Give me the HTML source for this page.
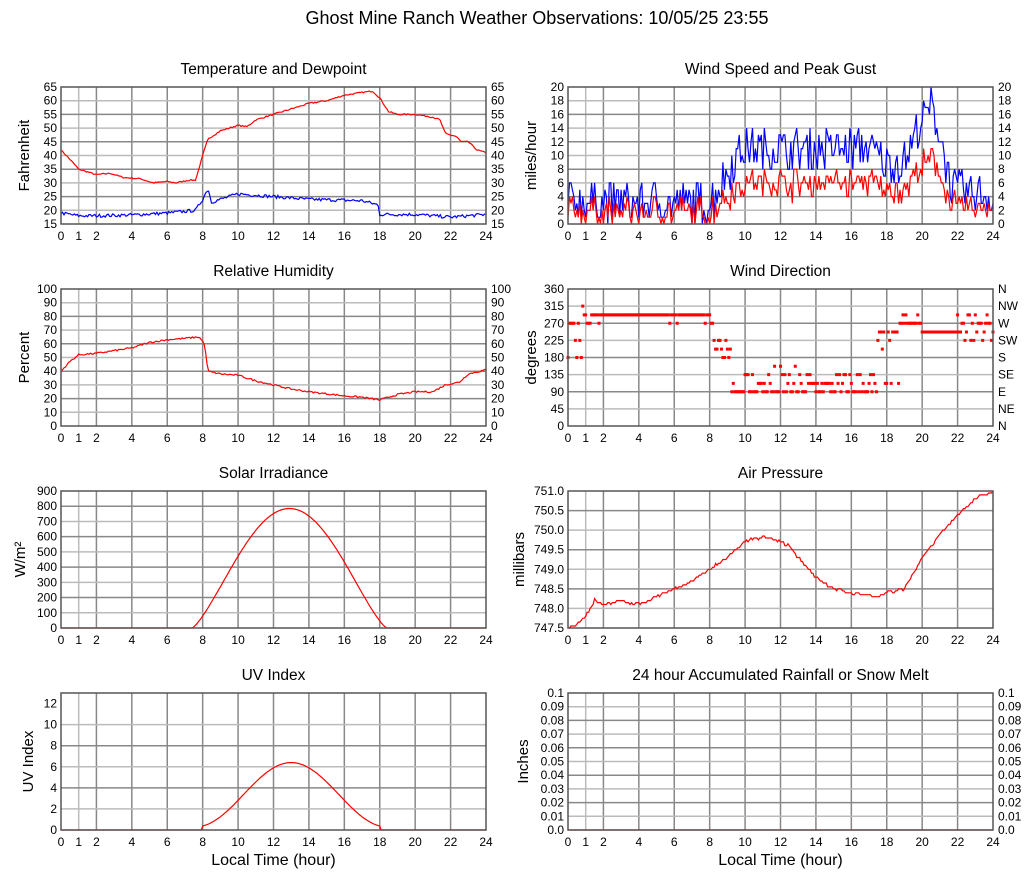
<!DOCTYPE html>
<html><head><meta charset="utf-8"><style>
body{margin:0;background:#fff;}
svg{display:block;font-family:"Liberation Sans",sans-serif;}
</style></head><body>
<svg id="s" width="1027" height="878" xmlns="http://www.w3.org/2000/svg">
<text x="537" y="24" font-size="18" text-anchor="middle">Ghost Mine Ranch Weather Observations: 10/05/25 23:55</text>
</svg>
<script>
var S=document.getElementById('s'),NS='http://www.w3.org/2000/svg';
var seed=7;function rnd(){seed=(seed*16807)%2147483647;return seed/2147483647;}
function el(t,a,txt){var e=document.createElementNS(NS,t);for(var k in a)e.setAttribute(k,a[k]);if(txt!==undefined)e.textContent=txt;S.appendChild(e);return e;}
function interp(pts,t){for(var i=0;i<pts.length-1;i++){if(t<=pts[i+1][0]){var a=pts[i],b=pts[i+1];return a[1]+(b[1]-a[1])*(t-a[0])/(b[0]-a[0]);}}return pts[pts.length-1][1];}
function chart(o){
 var L=o.x,T=o.y,W=425,H=137,R=L+W,B=T+H;
 el('text',{x:L+W/2,y:T-13,'font-size':15.5,'text-anchor':'middle'},o.title);
 var hrs=[1,2,4,6,8,10,12,14,16,18,20,22];
 hrs.forEach(function(h){var x=L+W*h/24;el('line',{x1:x,y1:T,x2:x,y2:B,stroke:h==1?'#bbb':'#888','stroke-width':1.5});});
 var n=o.ticks.length;
 for(var i=0;i<n;i++){var v=o.ticks[i];var y=B-(v-o.min)/(o.max-o.min)*H;
  if(i>0&&i<n-1)el('line',{x1:L,y1:y,x2:R,y2:y,stroke:i%2?'#bbb':'#888','stroke-width':1.5});
  var lab=o.fmt?o.fmt(v):String(v);
  el('text',{x:L-4,y:y+4,'font-size':12,'text-anchor':'end'},lab);
  if(o.right)el('text',{x:R+5,y:y+4,'font-size':12},o.rlab?o.rlab[i]:lab);}
 [0,1,2,4,6,8,10,12,14,16,18,20,22,24].forEach(function(h){el('text',{x:L+W*h/24,y:B+16,'font-size':12,'text-anchor':'middle'},h);});
 el('text',{transform:'translate('+(L-o.yo)+','+(T+H/2)+') rotate(-90)','font-size':15,'text-anchor':'middle'},o.ylab);
 if(o.xlab)el('text',{x:L+W/2,y:B+35,'font-size':16,'text-anchor':'middle'},'Local Time (hour)');
 function px(t){return L+W*t/24;}function py(v){v=Math.max(o.min,Math.min(o.max,v));return B-(v-o.min)/(o.max-o.min)*H;}
 (o.series||[]).forEach(function(s){var d='';for(var k=0;k<=288;k++){var t=k/12;var v=s.f(t);d+=(k?'L':'M')+px(t).toFixed(1)+' '+py(v).toFixed(1);}
  el('path',{d:d,fill:'none',stroke:s.c,'stroke-width':1.2});});
 if(o.dots){o.dots.forEach(function(p){el('rect',{x:px(p[0])-1.5,y:py(p[1])-1.5,width:3,height:3,fill:'red'});});}
 el('rect',{x:L,y:T,width:W,height:H,fill:'none',stroke:'#555','stroke-width':1.5});
}
function rng(a,b,s){var r=[];for(var v=a;v<=b+1e-9;v+=s)r.push(Math.round(v*100)/100);return r;}
var tP=[[0,42],[.3,40],[.8,36.5],[1,35],[2,33],[2.8,33.5],[3.5,32],[4.5,31.5],[5.2,30],[6,30.5],[6.5,30],[7.2,31],[7.6,31],[8,40],[8.3,46],[9,49],[10,51],[10.5,50.5],[11,53],[12,55],[13,57],[14,59],[15,60],[16,62],[17,63],[17.6,63.5],[18,61],[18.5,56],[19,55],[20,55],[21,54],[21.4,53],[21.7,48],[22.3,47],[22.6,45],[23,45],[23.5,42],[24,41]];
var dP=[[0,19],[1,18],[2,18],[4,18.3],[6,19],[7.6,20],[8,24],[8.3,28],[8.5,23],[9,24],[10,26],[12,25],[14,24],[17,23.5],[17.9,22],[18,18.5],[20,18.5],[22,17.5],[23,18],[24,18.5]];
chart({x:61,y:87,title:'Temperature and Dewpoint',min:15,max:65,ticks:rng(15,65,5),right:1,ylab:'Fahrenheit',yo:32,
 series:[{c:'red',f:function(t){return interp(tP,t)+(rnd()-.5)*.5;}},{c:'blue',f:function(t){return interp(dP,t)+(rnd()-.5)*1.2;}}]});
var gP=[[0,3.5],[8,3],[9.5,10],[10,11],[17,11],[18,9],[19,9],[19.7,14],[20.5,17],[21,13],[21.7,5],[24,4]];
var gust=[],spd=[];for(var k=0;k<=288;k++){var t=k/12,b=interp(gP,t);var g=Math.max(0,Math.round(b+(rnd()-.5)*6));gust.push(g);spd.push(Math.max(0,Math.round(g*.55+(rnd()-.5)*2)));}
chart({x:568,y:87,title:'Wind Speed and Peak Gust',min:0,max:20,ticks:rng(0,20,2),right:1,ylab:'miles/hour',yo:32,
 series:[{c:'blue',f:function(t){return gust[Math.round(t*12)];}},{c:'red',f:function(t){return spd[Math.round(t*12)];}}]});
var rP=[[0,40],[.5,47],[1,52],[2,53],[3,55],[4,57],[5,61],[6,63],[7,64],[7.8,65],[8.1,60],[8.3,40],[9,38],[10,37],[11,33],[12,30],[13,27],[14,25],[16,22],[17,21],[18,19],[19,23],[20,25],[21,25],[21.7,30],[22.5,32],[23,38],[24,41]];
chart({x:61,y:289,title:'Relative Humidity',min:0,max:100,ticks:rng(0,100,10),right:1,ylab:'Percent',yo:32,
 series:[{c:'red',f:function(t){return interp(rP,t)+(rnd()-.5)*1.2;}}]});
var dots=[];for(var k=0;k<=288;k++){var t=k/12,v;var r=rnd();
 if(t<1.3)v=[292,270,225,315,180,292][Math.floor(r*6)];else if(t<7.5)v=r<.05?270:292;else if(t<8.2)v=r<.5?270:292;else if(t<9.2)v=r<.3?180:(r<.7?202:225);
 else if(t<17.5)v=r<.55?90:(r<.8?112:(r<.95?135:(r<.98?157:68)));else if(t<18.7)v=r<.3?112:(r<.6?202:(r<.8?225:247));else if(t<20)v=r<.8?270:292;else if(t<22)v=247;else v=r<.3?225:(r<.6?292:(r<.8?247:270));dots.push([t,v]);}
chart({x:568,y:289,title:'Wind Direction',min:0,max:360,ticks:rng(0,360,45),right:1,rlab:['N','NE','E','SE','S','SW','W','NW','N'],ylab:'degrees',yo:32,dots:dots});
chart({x:61,y:491,title:'Solar Irradiance',min:0,max:900,ticks:rng(0,900,100),ylab:'W/m²',yo:36,
 series:[{c:'red',f:function(t){if(t<7.4||t>18.4)return 0;var s=Math.sin(Math.PI*(t-7.4)/11);return 785*Math.pow(Math.max(0,s),1.3);}}]});
var pP=[[0,747.5],[.5,747.6],[1,747.8],[1.5,748.2],[2,748.1],[3,748.2],[3.7,748.1],[4.5,748.2],[5,748.3],[6,748.5],[7,748.7],[8,749],[9,749.3],[10,749.7],[10.5,749.8],[11.3,749.8],[12,749.7],[12.5,749.6],[13,749.3],[14,748.8],[15,748.5],[16,748.4],[17.5,748.3],[18,748.4],[19,748.5],[20,749.3],[21,749.9],[22,750.4],[23,750.8],[24,751]];
chart({x:568,y:491,title:'Air Pressure',min:747.5,max:751,ticks:rng(747.5,751,.5),fmt:function(v){return v.toFixed(1);},ylab:'millibars',yo:44,
 series:[{c:'red',f:function(t){return Math.round((interp(pP,t)+(rnd()-.5)*.06)*20)/20;}}]});
chart({x:61,y:693,title:'UV Index',min:0,max:13,ticks:[0,2,4,6,8,10,12],ylab:'UV Index',yo:28,xlab:1,
 series:[{c:'red',f:function(t){if(t<8||t>18)return 0;return .3+6.1*Math.pow(Math.sin(Math.PI*(t-7.6)/10.8),2);}}]});
chart({x:568,y:693,title:'24 hour Accumulated Rainfall or Snow Melt',min:0,max:.1,ticks:rng(0,.1,.01),fmt:function(v){return v==0?'0.0':(v==.1?'0.1':v.toFixed(2));},right:1,ylab:'Inches',yo:40,xlab:1,
 series:[{c:'red',f:function(t){return 0;}}]});
</script>
</body></html>
